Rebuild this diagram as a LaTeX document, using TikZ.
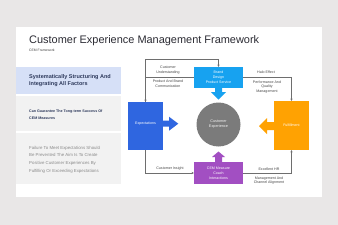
\documentclass[tikz,border=0pt]{standalone}
\usepackage{fontspec}
\setmainfont{Liberation Sans}
\usetikzlibrary{arrows.meta}
\definecolor{bgc}{HTML}{E9E7E7}
\definecolor{titlec}{HTML}{2B2B33}
\definecolor{panelblue}{HTML}{D6E0F7}
\definecolor{panelgray}{HTML}{F2F2F2}
\definecolor{navy}{HTML}{2E3A5C}
\definecolor{softgray}{HTML}{8A8A8A}
\definecolor{expc}{HTML}{2F66E0}
\definecolor{brandc}{HTML}{17A2F0}
\definecolor{fulc}{HTML}{FFA202}
\definecolor{cemc}{HTML}{A24FC2}
\definecolor{circc}{HTML}{7B7B7B}
\definecolor{linec}{HTML}{6E6E6E}
\definecolor{labc}{HTML}{444444}
\tikzset{
  tinytext/.style={inner sep=0, align=center, text=labc, font=\fontsize{3.6}{4.7}\selectfont},
  boxtext/.style={inner sep=0, align=center, text=white, font=\fontsize{3.6}{5.2}\selectfont},
  colbox/.style={draw=none, inner sep=0},
  conn/.style={draw=linec, line width=0.5pt, -{Stealth[length=2.2pt,width=2.2pt]}},
  plainconn/.style={draw=linec, line width=0.5pt},
  paneltext/.style={anchor=west, inner sep=0, align=left}
}
\begin{document}
\begin{tikzpicture}[x=1pt,y=-1pt]
\useasboundingbox (0,0) rectangle (338,225);
\fill[bgc] (0,0) rectangle (338,225);
\fill[white] (16,27) rectangle (322,197);

\node[anchor=west, inner sep=0, text=titlec, font=\fontsize{10.95}{13}\selectfont] (title) at (29,41) {Customer Experience Management Framework};
\node[anchor=west, inner sep=0, text=labc, font=\fontsize{3.4}{4}\selectfont] (sub) at (29,50) {CEM Framework};

% left panels
\node[colbox, fill=panelblue, minimum width=105pt, minimum height=27pt, anchor=north west] (p1) at (16,67) {};
\node[colbox, fill=panelgray, minimum width=105pt, minimum height=35pt, anchor=north west] (p2) at (16,96) {};
\node[colbox, fill=panelgray, minimum width=105pt, minimum height=51pt, anchor=north west] (p3) at (16,133) {};
\node[paneltext, text=navy, font=\bfseries\fontsize{5.5}{7}\selectfont] (t1) at (29,80.5) {Systematically Structuring And\\Integrating All Factors};
\node[paneltext, text=navy, font=\bfseries\fontsize{3.65}{7.5}\selectfont] (t2) at (29,114.5) {Can Guarantee The Tong-term Success Of\\CEM Measures};
\node[paneltext, text=softgray, font=\fontsize{4.35}{7.6}\selectfont] (t3) at (29,159.5) {Failure To Meet Expectations Should\\Be Prevented The Aim Is To Create\\Positive Customer Experiences By\\Fulfilling Or Exceeding Expectations};

% block arrows
\fill[expc] (163,120.7) -- (169,120.7) -- (169,116.7) -- (178.3,123.7) -- (169,130.7) -- (169,126.7) -- (163,126.7) -- cycle;
\fill[fulc] (274,122) -- (267,122) -- (267,118) -- (259,126) -- (267,134) -- (267,130) -- (274,130) -- cycle;
\fill[brandc] (215,88) -- (215,92) -- (211,92) -- (218.5,99.5) -- (226,92) -- (222,92) -- (222,88) -- cycle;
\fill[cemc] (215,162) -- (215,157) -- (212,157) -- (218.5,151.5) -- (225,157) -- (222,157) -- (222,162) -- cycle;

% main boxes
\node[colbox, fill=expc, minimum width=35pt, minimum height=48pt] (exp) at (145.5,126) {};
\node[boxtext] (expl) at (145.5,123.5) {Expectations};
\node[colbox, fill=brandc, minimum width=49pt, minimum height=21pt, boxtext] (brand) at (218.5,77.5) {Brand\\Design\\Product Service};
\node[colbox, fill=fulc, minimum width=35pt, minimum height=49pt] (ful) at (291.5,125.5) {};
\node[boxtext] (full) at (291.5,125.5) {Fulfillment};
\node[colbox, fill=cemc, minimum width=49pt, minimum height=22pt, boxtext] (cem) at (218.5,173) {CEM Measure\\Coach\\Interactions};
\node[circle, fill=circc, minimum size=44pt, inner sep=0, align=center, text=white!88!gray, font=\fontsize{3.8}{5}\selectfont] (cx) at (218.5,124.5) {Customer\\Experience};

% connectors
\coordinate (topc) at (218.5,59);
\draw[plainconn] (exp.north) |- (topc);
\draw[conn] (topc) -- (brand.north);
\draw[conn] (brand.west) -| (exp.north);
\draw[conn] (exp.south) |- (cem.west);
\draw[conn] (cem.east) -| (ful.south);
\draw[conn] (brand.east) -| (ful.north);

% connector labels
\node[tinytext] (l1) at (168,70) {Customer\\Understanding};
\node[tinytext] (l2) at (168,84) {Product And Brand\\Communication};
\node[tinytext] (l3) at (266,72) {Halo Effect};
\node[tinytext] (l4) at (267,87) {Performance And\\Quality\\Management};
\node[tinytext] (l5) at (170,169) {Customer Insight};
\node[tinytext] (l6) at (269,169) {Excellent HR};
\node[tinytext] (l7) at (269,180.5) {Management And\\Channel Alignment};
\end{tikzpicture}
\end{document}
